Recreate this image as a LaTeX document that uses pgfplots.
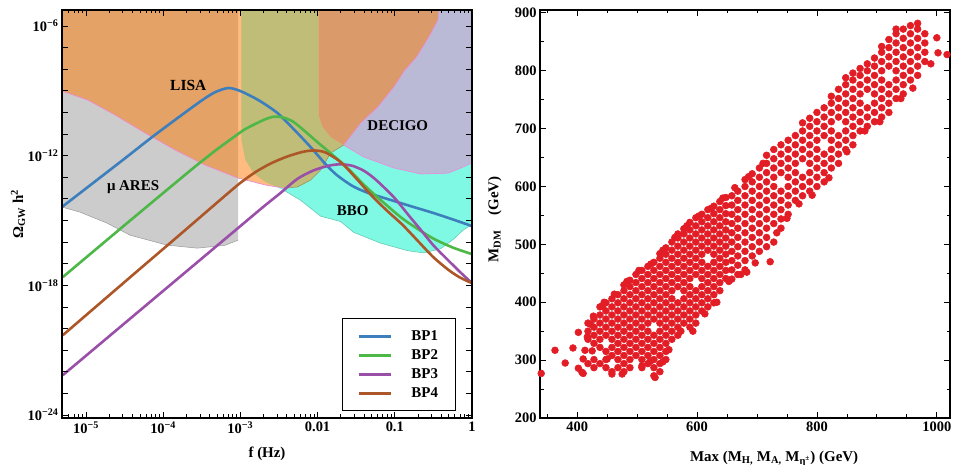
\documentclass[border=0pt]{standalone}
\usepackage{fontspec}
\setmainfont{Liberation Serif}
\usepackage{pgfplots}
\pgfplotsset{compat=1.18}
\definecolor{bbocol}{HTML}{7FF9E4}
\definecolor{decigocol}{HTML}{BBBAD6}
\definecolor{arescol}{HTML}{CCCCCC}
\definecolor{lisacol}{HTML}{FFBB80}
\definecolor{lisaares}{HTML}{E4A266}
\definecolor{lisabbo}{HTML}{C0BD78}
\definecolor{lisadec}{HTML}{DA9A6A}
\definecolor{pinkedge}{HTML}{EE88DD}
\definecolor{bboedge}{HTML}{66CCB4}
\definecolor{bpone}{HTML}{3D7EBC}
\definecolor{bptwo}{HTML}{4DB748}
\definecolor{bpthree}{HTML}{9A4FA8}
\definecolor{bpfour}{HTML}{AD5628}
\definecolor{dotred}{HTML}{E21D26}

\newcommand\labfont{\fontsize{15}{17}\selectfont\bfseries}
\pgfplotsset{
  panel/.style={
    scale only axis, width=410bp, height=408bp, anchor=south west,
    axis on top, tick align=inside,
    axis line style={line width=1.1bp},
    tick style={black, line width=0.8bp},
    major tick length=6bp, minor tick length=3.5bp,
    ticklabel style={font=\fontsize{14.5}{16}\selectfont\bfseries},
  },
}

\begin{document}
\begin{tikzpicture}
\useasboundingbox (0,0) rectangle (960bp,465bp);

% left: GW spectra (log10 f, log10 Omega h^2)
\begin{axis}[panel, at={(62bp,47bp)},
  xmin=-5.31, xmax=0, ymin=-24.14, ymax=-5.26,
  xtick={-5,-4,-3,-2,-1,0},
  xticklabels={10\textsuperscript{−5},10\textsuperscript{−4},10\textsuperscript{−3},0.01,0.1,1},
  minor xtick={-5.301,-5.222,-5.155,-5.097,-5.046,
    -4.699,-4.523,-4.398,-4.301,-4.222,-4.155,-4.097,-4.046,
    -3.699,-3.523,-3.398,-3.301,-3.222,-3.155,-3.097,-3.046,
    -2.699,-2.523,-2.398,-2.301,-2.222,-2.155,-2.097,-2.046,
    -1.699,-1.523,-1.398,-1.301,-1.222,-1.155,-1.097,-1.046,
    -0.699,-0.523,-0.398,-0.301,-0.222,-0.155,-0.097,-0.046},
  ytick={-24,-23,...,-6},
  yticklabels={10\textsuperscript{−24},,,,,,10\textsuperscript{−18},,,,,,10\textsuperscript{−12},,,,,,10\textsuperscript{−6}},
  xlabel={f (Hz)},
  ylabel={Ω\textsubscript{GW} h\textsuperscript{2}},
  every axis x label/.style={at={(axis description cs:0.5,-0.087)}, anchor=center, font=\labfont},
  every axis y label/.style={at={(axis description cs:-0.107,0.50)}, anchor=center, rotate=90, font=\labfont},
  legend style={at={(axis description cs:0.683,0.245)}, anchor=north west,
    draw=black, line width=0.9bp, fill=white,
    font=\fontsize{15}{17}\selectfont\bfseries,
    inner xsep=15bp, inner ysep=10bp, row sep=3.6bp,
    /tikz/every odd column/.append style={column sep=17bp}},
  legend cell align=left,
  legend image code/.code={\draw[#1, line width=3bp] (0bp,0bp) -- (32bp,0bp);},
]
% BBO
\addplot[fill=bbocol, draw=none, forget plot] coordinates {
  (-2.987,-5.0) (-2.987,-11.28) (-2.935,-12.20) (-2.831,-12.81) (-2.675,-13.22)
  (-2.442,-13.59) (-2.221,-14.06) (-1.961,-14.80) (-1.701,-15.05) (-1.532,-15.55)
  (-1.182,-16.05) (-0.831,-16.40) (-0.622,-16.50) (-0.403,-16.30) (-0.234,-15.85)
  (-0.117,-15.45) (0.05,-15.07) (0.05,-5.0)} -- cycle;
\addplot[draw=bboedge, line width=0.6bp, forget plot] coordinates {
  (-2.442,-13.59) (-2.221,-14.06) (-1.961,-14.80) (-1.701,-15.05) (-1.532,-15.55)
  (-1.182,-16.05) (-0.831,-16.40) (-0.622,-16.50) (-0.403,-16.30) (-0.234,-15.85)
  (-0.117,-15.45) (0.05,-15.07)};
% DECIGO
\addplot[fill=decigocol, draw=none, forget plot] coordinates {
  (-1.987,-5.0) (-1.987,-10.12) (-1.935,-10.68) (-1.831,-11.14) (-1.662,-11.51)
  (-1.403,-12.06) (-1.013,-12.57) (-0.662,-12.85) (-0.312,-12.81) (-0.143,-12.57)
  (0.05,-12.25) (0.05,-5.0)} -- cycle;
\addplot[draw=pinkedge, line width=0.6bp, forget plot] coordinates {
  (-1.662,-11.51) (-1.403,-12.06) (-1.013,-12.57) (-0.662,-12.85) (-0.312,-12.81)
  (-0.143,-12.57) (0.05,-12.25)};
% muAres
\addplot[fill=arescol, draw=none, forget plot] coordinates {
  (-5.4,-5.0) (-5.4,-14.29) (-5.078,-14.61) (-4.727,-15.12) (-4.429,-15.68)
  (-3.948,-16.14) (-3.558,-16.28) (-3.2,-16.15) (-3.03,-15.91) (-3.03,-5.0)} -- cycle;
\addplot[draw=gray!80, line width=0.5bp, forget plot] coordinates {
  (-5.4,-14.29) (-5.078,-14.61) (-4.727,-15.12) (-4.429,-15.68)
  (-3.948,-16.14) (-3.558,-16.28) (-3.2,-16.15) (-3.03,-15.91)};
% LISA
\addplot[fill=lisacol, draw=none, forget plot] coordinates {
  (-5.4,-5.0) (-5.4,-9.0) (-5.312,-9.01) (-4.974,-9.43) (-4.623,-10.12) (-4.234,-10.95)
  (-3.844,-11.74) (-3.455,-12.44) (-3.026,-13.04) (-2.675,-13.36) (-2.442,-13.50)
  (-2.260,-13.45) (-2.091,-13.13) (-1.961,-12.67) (-1.831,-11.88) (-1.662,-11.51)
  (-1.442,-10.49) (-1.221,-9.75) (-1.013,-8.82) (-0.870,-8.04) (-0.720,-7.44)
  (-0.560,-6.51) (-0.442,-5.72) (-0.429,-5.0)} -- cycle;
\addplot[fill=lisaares, draw=none, forget plot] coordinates {
  (-5.4,-5.0) (-5.4,-9.0) (-5.312,-9.01) (-4.974,-9.43) (-4.623,-10.12) (-4.234,-10.95)
  (-3.844,-11.74) (-3.455,-12.44) (-3.03,-13.04) (-3.03,-5.0)} -- cycle;
\addplot[fill=lisabbo, draw=none, forget plot] coordinates {
  (-2.987,-5.0) (-2.987,-11.28) (-2.935,-12.20) (-2.831,-12.81) (-2.675,-13.22)
  (-2.55,-13.42) (-2.442,-13.50) (-2.260,-13.45) (-2.091,-13.13) (-1.961,-12.67)
  (-1.831,-11.88) (-1.662,-11.51) (-1.831,-11.14) (-1.935,-10.68) (-1.987,-10.12)
  (-1.987,-5.0)} -- cycle;
\addplot[fill=lisadec, draw=none, forget plot] coordinates {
  (-1.987,-5.0) (-1.987,-10.12) (-1.935,-10.68) (-1.831,-11.14) (-1.662,-11.51)
  (-1.442,-10.49) (-1.221,-9.75) (-1.013,-8.82) (-0.870,-8.04) (-0.720,-7.44)
  (-0.560,-6.51) (-0.442,-5.72) (-0.429,-5.0)} -- cycle;
\addplot[draw=pinkedge, line width=0.6bp, forget plot] coordinates {
  (-5.4,-8.98) (-5.312,-9.01) (-4.974,-9.43) (-4.623,-10.12) (-4.234,-10.95)
  (-3.844,-11.74) (-3.455,-12.44) (-3.026,-13.04) (-2.675,-13.36) (-2.442,-13.50)};
\addplot[draw=pinkedge, line width=0.6bp, forget plot] coordinates {
  (-1.662,-11.51) (-1.442,-10.49) (-1.221,-9.75) (-1.013,-8.82) (-0.870,-8.04)
  (-0.720,-7.44) (-0.560,-6.51) (-0.442,-5.72) (-0.429,-5.0)};
\addplot[draw=lisabbo!70!black, line width=0.4bp, forget plot] coordinates {
  (-2.442,-13.50) (-2.260,-13.45) (-2.091,-13.13) (-1.961,-12.67) (-1.831,-11.88) (-1.662,-11.51)};

% benchmark spectra
\addplot[bpone, line width=2.6bp, smooth, tension=0.45] coordinates {
  (-5.312,-14.38) (-4.558,-12.30) (-4.143,-11.14) (-3.779,-10.17) (-3.494,-9.43)
  (-3.325,-9.06) (-3.156,-8.87) (-3.0,-9.01) (-2.766,-9.43) (-2.519,-10.03)
  (-2.286,-10.86) (-2.091,-11.60) (-1.90,-12.38) (-1.75,-12.90) (-1.55,-13.40)
  (-1.35,-13.72) (-1.1,-14.0) (-0.8,-14.33) (-0.494,-14.66) (-0.25,-14.95) (0,-15.26)};
\addlegendentry{BP1}
\addplot[bptwo, line width=2.6bp, smooth, tension=0.45] coordinates {
  (-5.30,-17.62) (-4.5,-15.22) (-3.7,-12.84) (-3.5,-12.26) (-3.3,-11.70)
  (-3.1,-11.18) (-2.95,-10.80) (-2.8,-10.52) (-2.68,-10.32) (-2.57,-10.20)
  (-2.45,-10.23) (-2.32,-10.42) (-2.18,-10.82) (-2.0,-11.38) (-1.8,-11.98)
  (-1.6,-12.62) (-1.4,-13.35) (-1.2,-14.0) (-0.922,-14.85) (-0.7,-15.4)
  (-0.494,-15.85) (-0.25,-16.25) (0,-16.56)};
\addlegendentry{BP2}
\addplot[bpthree, line width=2.6bp, smooth, tension=0.45] coordinates {
  (-5.30,-22.16) (-4.5,-19.76) (-3.7,-17.36) (-3.0,-15.26) (-2.7,-14.36)
  (-2.481,-13.73) (-2.26,-13.07) (-2.05,-12.68) (-1.85,-12.46) (-1.70,-12.40)
  (-1.55,-12.47) (-1.40,-12.70) (-1.25,-13.10) (-1.013,-13.92) (-0.8,-14.85)
  (-0.662,-15.44) (-0.5,-16.15) (-0.312,-16.83) (-0.15,-17.40) (0,-17.90)};
\addlegendentry{BP3}
\addplot[bpfour, line width=2.6bp, smooth, tension=0.45] coordinates {
  (-5.30,-20.31) (-4.5,-17.85) (-3.7,-15.40) (-3.2,-13.86) (-3.0,-13.26)
  (-2.8,-12.75) (-2.6,-12.35) (-2.4,-12.05) (-2.2,-11.83) (-2.05,-11.76)
  (-1.9,-11.85) (-1.7,-12.30) (-1.5,-13.05) (-1.3,-13.85) (-1.1,-14.55)
  (-0.9,-15.20) (-0.7,-15.95) (-0.5,-16.70) (-0.3,-17.30) (-0.15,-17.65) (0,-17.90)};
\addlegendentry{BP4}

\node[font=\fontsize{15.5}{17}\selectfont\bfseries] at (axis cs:-3.675,-8.73) {LISA};
\node[font=\fontsize{15}{17}\selectfont\bfseries] at (axis cs:-0.961,-10.63) {DECIGO};
\node[font=\fontsize{15}{17}\selectfont\bfseries] at (axis cs:-4.39,-13.45) {μ ARES};
\node[font=\fontsize{15}{17}\selectfont\bfseries] at (axis cs:-1.545,-14.56) {BBO};
\end{axis}

% right: scan
\begin{axis}[panel, at={(540bp,47bp)},
  xmin=338, xmax=1022, ymin=200, ymax=905,
  xtick={400,600,800,1000},
  minor xtick={350,450,500,550,650,700,750,850,900,950},
  ytick={200,300,...,900},
  minor ytick={250,350,...,850},
  /pgf/number format/assume math mode=true,
  /pgf/number format/1000 sep={},
  xlabel={Max (M\textsubscript{H,} M\textsubscript{A,} M\textsubscript{η\textsuperscript{±}}) (GeV)},
  ylabel={M\textsubscript{DM}\quad (GeV)},
  every axis x label/.style={at={(axis description cs:0.571,-0.1)}, anchor=center, font=\labfont},
  every axis y label/.style={at={(axis description cs:-0.11,0.487)}, anchor=center, rotate=90, font=\labfont},
]
\addplot[dotred, only marks, mark=*, mark size=3.4bp, mark options={draw=dotred, fill=dotred, line width=0.6bp}] coordinates {
(340,277) (363,317) (380,295) (393,321) (402,286) (410,277) (402,348) (413,317) (425,316)
(410,302) (408,279) (417,340) (422,362) (427,376) (442,393) (450,302) (458,276) (475,276)
(508,290) (522,298) (530,270) (543,297)
(418,294) (418,336) (418,350) (418,364)
(428,287) (428,301) (428,329) (428,343) (428,357) (428,371)
(438,294) (438,322) (438,336) (438,350) (438,364) (438,378) (438,392)
(448,287) (448,301) (448,315) (448,343) (448,357) (448,371) (448,385) (448,399)
(458,280) (458,308) (458,322) (458,336) (458,350) (458,364) (458,378) (458,392) (458,406)
(468,287) (468,301) (468,315) (468,329) (468,343) (468,357) (468,371) (468,385) (468,399) (468,413)
(478,280) (478,294) (478,308) (478,322) (478,336) (478,350) (478,364) (478,378) (478,392) (478,406) (478,420) (478,430)
(488,287) (488,301) (488,315) (488,329) (488,343) (488,357) (488,371) (488,385) (488,399) (488,413) (488,427) (488,438)
(498,308) (498,322) (498,336) (498,350) (498,364) (498,378) (498,392) (498,406) (498,420) (498,434) (498,448)
(508,287) (508,301) (508,315) (508,329) (508,343) (508,357) (508,371) (508,385) (508,399) (508,413) (508,427) (508,441) (508,455)
(518,294) (518,308) (518,322) (518,336) (518,350) (518,364) (518,378) (518,392) (518,406) (518,420) (518,434) (518,448) (518,462)
(528,273) (528,287) (528,301) (528,315) (528,329) (528,343) (528,371) (528,385) (528,399) (528,413) (528,427) (528,441) (528,455) (528,469)
(538,280) (538,294) (538,308) (538,322) (538,336) (538,350) (538,364) (538,378) (538,392) (538,406) (538,420) (538,434) (538,448) (538,462) (538,476) (538,484)
(548,301) (548,315) (548,329) (548,343) (548,357) (548,371) (548,385) (548,399) (548,413) (548,427) (548,441) (548,455) (548,469) (548,483) (548,494)
(558,336) (558,350) (558,364) (558,378) (558,392) (558,406) (558,420) (558,434) (558,448) (558,462) (558,476) (558,490) (558,504)
(568,343) (568,357) (568,371) (568,385) (568,399) (568,427) (568,441) (568,455) (568,469) (568,483) (568,497) (568,511) (568,518)
(578,364) (578,378) (578,392) (578,406) (578,420) (578,434) (578,448) (578,462) (578,476) (578,490) (578,504) (578,518) (578,527)
(588,357) (588,371) (588,385) (588,399) (588,413) (588,427) (588,441) (588,455) (588,469) (588,483) (588,497) (588,511) (588,525) (588,538)
(598,364) (598,378) (598,392) (598,406) (598,420) (598,448) (598,462) (598,476) (598,490) (598,504) (598,518) (598,532) (598,546)
(608,385) (608,399) (608,413) (608,427) (608,441) (608,455) (608,469) (608,483) (608,497) (608,511) (608,525) (608,539) (608,552)
(618,392) (618,406) (618,420) (618,434) (618,448) (618,462) (618,490) (618,504) (618,518) (618,532) (618,546) (618,560)
(628,399) (628,413) (628,427) (628,441) (628,455) (628,469) (628,483) (628,497) (628,511) (628,525) (628,539) (628,553) (628,566)
(638,420) (638,434) (638,448) (638,462) (638,476) (638,490) (638,504) (638,518) (638,532) (638,546) (638,560) (638,574)
(648,441) (648,455) (648,469) (648,483) (648,497) (648,511) (648,525) (648,539) (648,553) (648,567) (648,581)
(658,440) (658,456) (658,472) (658,488) (658,504) (658,520) (658,536) (658,552) (658,568) (658,584)
(668,448) (668,464) (668,480) (668,496) (668,512) (668,528) (668,544) (668,560) (668,576) (668,592)
(680,456) (680,472) (680,488) (680,504) (680,520) (680,536) (680,552) (680,568) (680,584) (680,600) (680,612)
(692,480) (692,496) (692,512) (692,528) (692,544) (692,560) (692,576) (692,592) (692,608) (692,622)
(704,488) (704,504) (704,520) (704,536) (704,552) (704,568) (704,584) (704,600) (704,616) (704,632)
(716,496) (716,512) (716,528) (716,544) (716,560) (716,576) (716,592) (716,608) (716,624) (716,640) (716,654)
(728,504) (728,536) (728,552) (728,568) (728,584) (728,600) (728,616) (728,632) (728,648) (728,664)
(740,528) (740,544) (740,560) (740,576) (740,592) (740,624) (740,640) (740,656) (740,672)
(752,552) (752,568) (752,584) (752,600) (752,616) (752,632) (752,648) (752,664) (752,680)
(764,576) (764,592) (764,608) (764,624) (764,640) (764,656) (764,672) (764,688)
(776,584) (776,600) (776,616) (776,648) (776,664) (776,680) (776,696) (776,710)
(788,592) (788,608) (788,624) (788,640) (788,656) (788,672) (788,688) (788,704) (788,718)
(800,600) (800,616) (800,632) (800,648) (800,664) (800,680) (800,696) (800,712) (800,728)
(812,608) (812,624) (812,640) (812,656) (812,688) (812,704) (812,720) (812,736)
(824,632) (824,648) (824,664) (824,680) (824,696) (824,712) (824,728) (824,744) (824,756)
(836,640) (836,656) (836,672) (836,688) (836,720) (836,736) (836,752) (836,768)
(848,664) (848,680) (848,696) (848,712) (848,728) (848,744) (848,760) (848,776) (848,788)
(860,672) (860,688) (860,704) (860,720) (860,736) (860,752) (860,768) (860,784) (860,796)
(872,696) (872,712) (872,728) (872,744) (872,760) (872,776) (872,792) (872,804)
(884,704) (884,720) (884,736) (884,768) (884,784) (884,800) (884,812)
(896,712) (896,728) (896,744) (896,760) (896,776) (896,792) (896,808) (896,822)
(908,720) (908,736) (908,752) (908,768) (908,784) (908,800) (908,816) (908,832) (908,842)
(920,728) (920,744) (920,760) (920,776) (920,808) (920,824) (920,840) (920,854)
(932,752) (932,768) (932,784) (932,800) (932,816) (932,832) (932,848) (932,864) (932,872)
(944,760) (944,776) (944,792) (944,808) (944,824) (944,840) (944,856) (944,872)
(956,784) (956,800) (956,816) (956,832) (956,848) (956,864) (956,878)
(968,792) (968,808) (968,824) (968,840) (968,856) (968,872) (968,882)
(980,816) (980,832) (980,848) (980,864)
(1000,857) (1002,831) (1017,828) (990,812) (722,470) (683,452)
(445,400) (462,414) (483,436) (503,455) (523,466) (543,490) (563,512) (583,532)
(603,549) (623,562) (643,580) (663,598) (686,617) (710,640)
(553,318) (573,350) (593,350) (613,380) (633,400) (653,436) (673,448) (697,468)
(733,520) (750,545) (770,570) (792,585) (820,615) (850,660) (880,696) (905,712)
(940,752) (960,770)
};
\end{axis}
\end{tikzpicture}
\end{document}
